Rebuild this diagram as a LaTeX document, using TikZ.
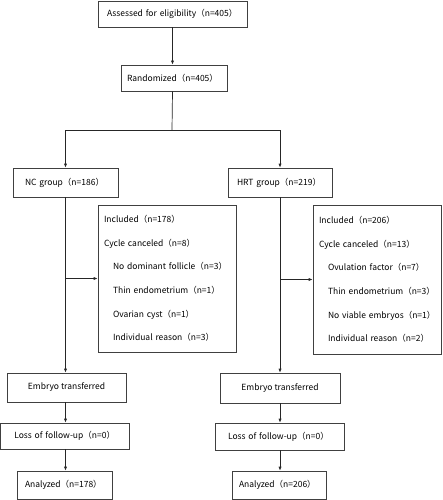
\documentclass[tikz,border=0pt]{standalone}
\usepackage{fontspec}
\setmainfont{Noto Sans CJK SC}
\usetikzlibrary{arrows.meta,positioning}
\tikzset{
  box/.style={draw=black!75,line width=0.7pt,rectangle,inner ysep=0pt,align=left,font=\fontsize{8.5}{10}\selectfont},
  infobox/.style={box,inner xsep=0pt,font=\fontsize{8.5}{23.6}\selectfont,execute at begin node={\hyphenpenalty=10000\relax}},
  arr/.style={draw=black!85,line width=0.7pt,-{Latex[length=4pt,width=3.2pt]}},
  link/.style={draw=black!85,line width=0.7pt}
}
\newcommand{\lvl}{\hspace*{6pt}}
\newcommand{\sub}{\hspace*{15pt}}
\begin{document}
\begin{tikzpicture}[x=1pt,y=-1pt]
  \useasboundingbox (0,0) rectangle (442,500);
  \node[box,minimum width=149,minimum height=26,text width=131,inner xsep=9pt](elig) at (172.5,14){Assessed for eligibility（n=405）};
  \node[box,minimum width=106,minimum height=26,text width=94,inner xsep=6pt](rand) at (174,78){Randomized（n=405）};
  \coordinate (split) at (172,130);
  \node[box,minimum width=105,minimum height=29,text width=81,inner xsep=12pt](nc) at (65.5,182.5){NC group（n=186）};
  \node[box,minimum width=104,minimum height=29,text width=86,inner xsep=9pt](hrt) at (280,182.5){HRT group（n=219）};
  \node[infobox,minimum width=138,minimum height=147,text width=138](ncinfo) at (167,278.5){%
    \lvl Included（n=178）\\\lvl Cycle canceled（n=8）\\\sub No dominant follicle（n=3）\\\sub Thin endometrium（n=1）\\\sub Ovarian cyst（n=1）\\\sub Individual reason（n=3）};
  \node[infobox,minimum width=128,minimum height=149,text width=128](hrtinfo) at (377,279.5){%
    \lvl Included（n=206）\\\lvl Cycle canceled（n=13）\\\sub Ovulation factor（n=7）\\\sub Thin endometrium（n=3）\\\sub No viable embryos（n=1）\\\sub Individual reason（n=2）};
  \node[box,minimum width=119,minimum height=29,align=center](ncemb) at (66.5,387.5){Embryo transferred};
  \node[box,minimum width=120,minimum height=30,align=center](hrtemb) at (280,388){Embryo transferred};
  \node[box,minimum width=128.5,minimum height=26,text width=101,inner xsep=14pt](ncloss) at (64.75,436){Loss of follow-up（n=0）};
  \node[box,minimum width=129,minimum height=27,text width=103,inner xsep=13pt](hrtloss) at (279.5,436.5){Loss of follow-up（n=0）};
  \node[box,minimum width=95,minimum height=28,text width=79,inner xsep=8pt](ncana) at (64.5,485){Analyzed（n=178）};
  \node[box,minimum width=94,minimum height=28,text width=80,inner xsep=7pt](hrtana) at (279,485){Analyzed（n=206）};
  \draw[arr] (elig.south) -- (elig.south |- rand.north);
  \draw[link] (elig.south |- rand.south) -- (split);
  \draw[arr] (split) -| (nc.north);
  \draw[arr] (split) -| (hrt.north);
  \foreach \g in {nc,hrt}{
    \draw[arr] (\g.south) -- (\g.south |- \g emb.north);
    \draw[arr] (\g.south |- \g info.west) -- (\g info.west);
    \draw[arr] (\g.south |- \g emb.south) -- (\g.south |- \g loss.north);
    \draw[arr] (\g.south |- \g loss.south) -- (\g.south |- \g ana.north);
  }
\end{tikzpicture}
\end{document}
